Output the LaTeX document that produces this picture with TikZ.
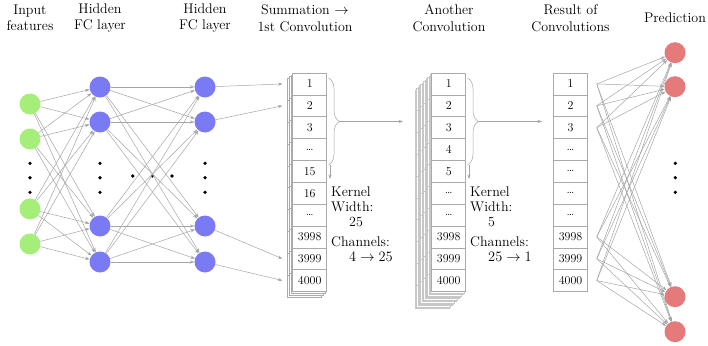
\documentclass[tikz,border=0pt]{standalone}
\usetikzlibrary{arrows.meta,decorations.pathreplacing}
\definecolor{ingreen}{RGB}{166,238,122}
\definecolor{hidblue}{RGB}{122,122,245}
\definecolor{outred}{RGB}{228,122,122}
\definecolor{edgegray}{RGB}{165,165,165}
\definecolor{cellgray}{RGB}{170,170,170}
\tikzset{
 neuron/.style={circle, minimum size=21pt, inner sep=0pt},
 inp/.style={neuron, fill=ingreen},
 hid/.style={neuron, fill=hidblue},
 outn/.style={neuron, fill=outred},
 edge/.style={draw=edgegray, line width=0.5pt, -{Stealth[length=4.5pt,width=3.2pt]}},
 cell/.style={draw=cellgray, fill=white, line width=0.5pt, minimum width=34pt, minimum height=21.85pt, inner sep=0pt, font=\fontsize{12}{14}\selectfont},
 layer/.style={draw=cellgray, fill=white, line width=0.4pt},
 farlayer/.style={draw=black!22, fill=white, line width=0.3pt},
 title/.style={align=center, font=\fontsize{14}{16.5}\selectfont},
 note/.style={align=left, font=\fontsize{14}{15}\selectfont, anchor=north west, inner sep=0pt},
 dotnode/.style={circle, fill=black, minimum size=3.6pt, inner sep=0pt},
 bracestyle/.style={draw=edgegray, line width=0.5pt, decorate, decoration={brace, amplitude=11pt}},
}
\begin{document}
\begin{tikzpicture}[x=1pt,y=-1pt]
\useasboundingbox (0,0) rectangle (708,345);

% titles
\node[title] (t1) at (30,18) {Input\\features};
\node[title] (t2) at (100,18) {Hidden\\FC layer};
\node[title] (t3) at (205,18) {Hidden\\FC layer};
\node[title] (t4) at (305,18) {Summation $\rightarrow$\\1st Convolution};
\node[title] (t5) at (449,18) {Another\\Convolution};
\node[title] (t6) at (570.5,18) {Result of\\Convolutions};
\node[title] (t7) at (675,18) {Prediction};

% neurons
\foreach \n/\y in {1/104,2/139,3/209,4/244} \node[inp] (i\n) at (30,\y) {};
\foreach \n/\y in {1/87,2/122,3/226,4/262} {
  \node[hid] (h\n) at (100,\y) {};
  \node[hid] (g\n) at (205,\y) {};
}
\foreach \n/\y in {1/52.7,2/86.7,3/296.7,4/331.7} \node[outn] (o\n) at (675,\y) {};

% dots
\foreach \n/\y in {1/163.3,2/177.7,3/192.3} {
  \node[dotnode] (di\n) at (30,\y) {};
  \node[dotnode] (dh\n) at (100,\y) {};
  \node[dotnode] (dg\n) at (205,\y) {};
  \node[dotnode] (do\n) at (675.3,\y) {};
}
\foreach \n/\x in {1/132.7,2/152.3,3/172} \node[dotnode] (dm\n) at (\x,176) {};

% FC edges
\foreach \a in {1,...,4} \foreach \b in {1,...,4} {
  \draw[edge] (i\a) -- (h\b);
  \draw[edge] (h\a) -- (g\b);
}

% column 1 back layers (4 channels)
\foreach \k in {3,2,1} {
  \begin{scope}[shift={(-1.8*\k,1.8*\k)}]
    \draw[layer] (292.7,73) rectangle (326.7,291.5);
    \foreach \j in {1,...,9} \draw[layer] (292.7,73+21.85*\j) -- (326.7,73+21.85*\j);
  \end{scope}
}
\foreach \lab [count=\k] in {1,2,3,\dots,15,16,\dots,3998,3999,4000}
  \node[cell] (a\k) at (309.7,73+21.85*\k-10.925) {\lab};

% column 2 back layers (many channels)
\foreach \k in {12,...,1} {
  \begin{scope}[shift={(-1.4*\k,1.4*\k)}]
    \draw[farlayer] (431.7,73) rectangle (465.7,291.5);
    \foreach \j in {1,...,9} \draw[farlayer] (431.7,73+21.85*\j) -- (465.7,73+21.85*\j);
  \end{scope}
}
\foreach \lab [count=\k] in {1,2,3,4,5,\dots,\dots,3998,3999,4000}
  \node[cell] (b\k) at (448.7,73+21.85*\k-10.925) {\lab};

% column 3
\foreach \lab [count=\k] in {1,2,3,\dots,\dots,\dots,\dots,3998,3999,4000}
  \node[cell] (c\k) at (570.5,73+21.85*\k-10.925) {\lab};

% hidden 2 -> column 1
\foreach \g/\c in {1/1,2/2,3/9,4/10} {
  \coordinate (p\c) at ([xshift=-10pt]a\c.west);
  \draw[edge] (g\g) -- (p\c);
}

% braces and arrows
\draw[bracestyle] (328.5,78) -- (328.5,165);
\coordinate (b1tip) at (339.5,121.5);
\coordinate (b2in) at (403,121.5);
\coordinate (b1end) at (330,165);
\coordinate (b1down) at (330,179);
\draw[edge] (b1tip) -- (b2in);
\draw[edge] (b1end) -- (b1down);

\draw[bracestyle] (467.5,78) -- (467.5,165);
\coordinate (b2tip) at (478.5,121.5);
\coordinate (c3in) at (542,121.5);
\coordinate (b2end) at (469,165);
\coordinate (b2down) at (469,179);
\draw[edge] (b2tip) -- (c3in);
\draw[edge] (b2end) -- (b2down);

% notes
\node[note] (k1) at (331,187) {Kernel\\Width:\\\hspace*{18pt}25};
\node[note] (ch1) at (331,236) {Channels:\\\hspace*{18pt}$4\rightarrow25$};
\node[note] (k2) at (470,187) {Kernel\\Width:\\\hspace*{18pt}5};
\node[note] (ch2) at (470,236) {Channels:\\\hspace*{18pt}$25\rightarrow1$};

% column 3 -> prediction
\foreach \s/\c in {1/1,2/2,3/3,4/8,5/9,6/10} {
  \coordinate (s\s) at ([xshift=9pt]c\c.east);
}
\foreach \s in {1,...,6} \foreach \o in {1,...,4} \draw[edge] (s\s) -- (o\o);
\end{tikzpicture}
\end{document}
